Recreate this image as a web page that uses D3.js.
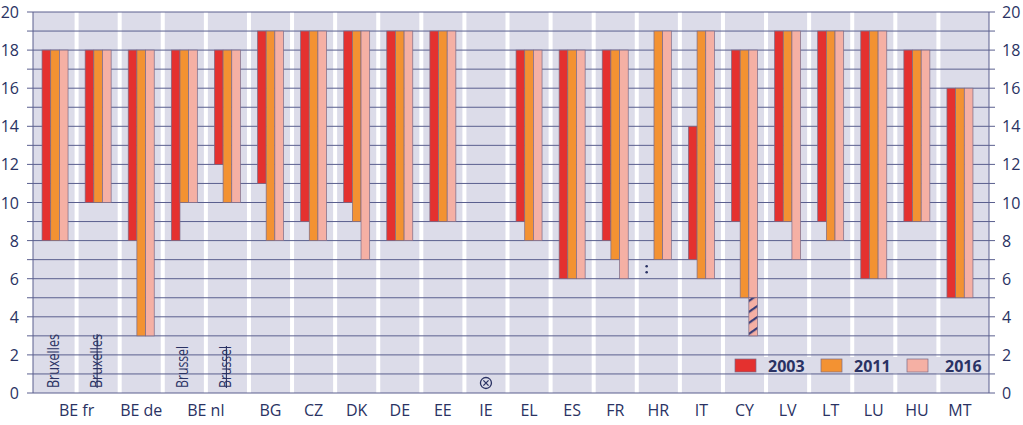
<!DOCTYPE html>
<html>
<head>
<meta charset="utf-8">
<script src="https://cdn.jsdelivr.net/npm/d3@7"></script>
<style>
  body { margin: 0; background: #fff; }
  svg text { font-family: "Open Sans", sans-serif; fill: #2a3263; }
</style>
</head>
<body>
<svg id="chart" width="1023" height="425"></svg>
<script>
// columns of the chart (BE fr and BE nl have two columns each)
var columns = ["BE fr Bruxelles", "BE fr", "BE de", "BE nl Brussel", "BE nl", "BG", "CZ", "DK", "DE", "EE",
  "IE", "EL", "ES", "FR", "HR", "IT", "CY", "LV", "LT", "LU", "HU", "MT"];
var groupLabels = ["BE fr", "BE de", "BE nl", "BG", "CZ", "DK", "DE", "EE", "IE", "EL", "ES", "FR",
  "HR", "IT", "CY", "LV", "LT", "LU", "HU", "MT"];
var groupSpan = [2, 1, 2, 1, 1, 1, 1, 1, 1, 1, 1, 1, 1, 1, 1, 1, 1, 1, 1, 1];
var years = ["2003", "2011", "2016"];

var low2003  = [8, 10, 8, 8, 12, 11, 9, 10, 8, 9, null, 9, 6, 8, null, 7, 9, 9, 9, 6, 9, 5];
var high2003 = [18, 18, 18, 18, 18, 19, 19, 19, 19, 19, null, 18, 18, 18, null, 14, 18, 19, 19, 19, 18, 16];
var low2011  = [8, 10, 3, 10, 10, 8, 8, 9, 8, 9, null, 8, 6, 7, 7, 6, 5, 9, 8, 6, 9, 5];
var high2011 = [18, 18, 18, 18, 18, 19, 19, 19, 19, 19, null, 18, 18, 18, 19, 19, 18, 19, 19, 19, 18, 16];
var low2016  = [8, 10, 3, 10, 10, 8, 8, 7, 8, 9, null, 8, 6, 6, 7, 6, 5, 7, 8, 6, 9, 5];
var high2016 = [18, 18, 18, 18, 18, 19, 19, 19, 19, 19, null, 18, 18, 18, 19, 19, 18, 19, 19, 19, 18, 16];

// CY 2016: hatched part of the range
var hatchCol = "CY", hatchLow = 3, hatchHigh = 5;
// rotated city labels
var cityLabels = [["BE fr Bruxelles", "Bruxelles", false], ["BE fr", "Bruxelles", true],
  ["BE nl Brussel", "Brussel", false], ["BE nl", "Brussel", true]];
var notAvailable = [["HR", "2003", 6.5]];
var notApplicable = ["IE"];
var yTicks = d3.range(0, 21, 2);

var colors = {"2003": "#e4312f", "2011": "#f39232", "2016": "#f5b0a4"};
var navy = "#2a3263", gridColor = "#5a5f8e";

var svg = d3.select("#chart");
var plotL = 33, plotR = 989, plotT = 12, plotB = 393;

var x = d3.scaleBand().domain(columns).range([33.5, 981.5]).paddingInner(0).paddingOuter(0);
var y = d3.scaleLinear().domain([0, 20]).range([plotB, plotT]);
var xYear = d3.scaleBand().domain(years).range([-13, 13]);

var defs = svg.append("defs");
var pat = defs.append("pattern").attr("id", "hatch").attr("patternUnits", "userSpaceOnUse")
  .attr("width", 9).attr("height", 9).attr("patternTransform", "rotate(-35)");
pat.append("rect").attr("width", 9).attr("height", 9).attr("fill", colors["2016"]);
pat.append("rect").attr("width", 9).attr("height", 2.2).attr("fill", "#3a3f7a");

// background and white separators
svg.append("rect").attr("x", plotL).attr("y", plotT).attr("width", plotR - plotL).attr("height", plotB - plotT)
  .attr("fill", "#dcdce9");
svg.selectAll(".sep").data(columns.slice(1)).enter().append("rect")
  .attr("x", function(d) { return x(d) - 2; }).attr("y", plotT)
  .attr("width", 4).attr("height", plotB - plotT).attr("fill", "#fff");

// grid lines (every unit) with ticks on both sides
svg.selectAll(".grid").data(d3.range(0, 21)).enter().append("line")
  .attr("x1", plotL - 6).attr("x2", plotR + 6)
  .attr("y1", function(d) { return y(d); }).attr("y2", function(d) { return y(d); })
  .attr("stroke", gridColor).attr("stroke-width", 1);
svg.append("line").attr("x1", plotL).attr("x2", plotL).attr("y1", plotT).attr("y2", plotB)
  .attr("stroke", gridColor);
svg.append("line").attr("x1", plotR).attr("x2", plotR).attr("y1", plotT).attr("y2", plotB)
  .attr("stroke", gridColor);

// y labels left and right
svg.selectAll(".yl").data(yTicks).enter().append("text")
  .attr("x", 19).attr("y", function(d) { return y(d) + 6; })
  .attr("text-anchor", "end").attr("font-size", 16).text(function(d) { return d; });
svg.selectAll(".yr").data(yTicks).enter().append("text")
  .attr("x", 1002).attr("y", function(d) { return y(d) + 6; })
  .attr("text-anchor", "start").attr("font-size", 16).text(function(d) { return d; });

// bars
var series = [["2003", low2003, high2003], ["2011", low2011, high2011], ["2016", low2016, high2016]];
series.forEach(function(s) {
  var rows = columns.map(function(c, i) { return {col: c, lo: s[1][i], hi: s[2][i]}; })
    .filter(function(d) { return d.lo != null; });
  svg.selectAll(".b" + s[0]).data(rows).enter().append("rect")
    .attr("x", function(d) { return x(d.col) + x.bandwidth() / 2 + xYear(s[0]); })
    .attr("width", xYear.bandwidth())
    .attr("y", function(d) { return y(d.hi); })
    .attr("height", function(d) { return y(d.lo) - y(d.hi); })
    .attr("fill", colors[s[0]]).attr("stroke", "#7b6a86").attr("stroke-width", 0.7);
});

// hatched extension
svg.append("rect")
  .attr("x", x(hatchCol) + x.bandwidth() / 2 + xYear("2016"))
  .attr("width", xYear.bandwidth())
  .attr("y", y(hatchHigh)).attr("height", y(hatchLow) - y(hatchHigh))
  .attr("fill", "url(#hatch)").attr("stroke", "#7b6a86").attr("stroke-width", 0.7);

// ":" not available
notAvailable.forEach(function(n) {
  var cx = x(n[0]) + x.bandwidth() / 2 + xYear(n[1]) + xYear.bandwidth() / 2 - 3;
  svg.append("circle").attr("cx", cx).attr("cy", y(n[2]) - 3).attr("r", 1.3).attr("fill", navy);
  svg.append("circle").attr("cx", cx).attr("cy", y(n[2]) + 3).attr("r", 1.3).attr("fill", navy);
});

// circled cross
notApplicable.forEach(function(c) {
  var cx = x(c) + x.bandwidth() / 2, cy = 383;
  svg.append("circle").attr("cx", cx).attr("cy", cy).attr("r", 5.5)
    .attr("fill", "none").attr("stroke", navy).attr("stroke-width", 1.3);
  svg.append("path").attr("d", "M" + (cx - 2.6) + "," + (cy - 2.6) + "L" + (cx + 2.6) + "," + (cy + 2.6) +
      "M" + (cx + 2.6) + "," + (cy - 2.6) + "L" + (cx - 2.6) + "," + (cy + 2.6))
    .attr("stroke", navy).attr("stroke-width", 1.3);
});

// rotated city names
cityLabels.forEach(function(c) {
  var bx = x(c[0]) + x.bandwidth() / 2 + 4;
  var len = c[1] == "Bruxelles" ? 54 : 42;
  svg.append("text").attr("transform", "translate(" + bx + ",388) rotate(-90)")
    .attr("font-size", 17).attr("textLength", len).attr("lengthAdjust", "spacingAndGlyphs")
    .text(c[1]);
  if (c[2]) {
    svg.append("line").attr("x1", bx - 5).attr("x2", bx - 5).attr("y1", 388).attr("y2", 388 - len)
      .attr("stroke", navy).attr("stroke-width", 1.1);
  }
});

// x labels (centred on their group of columns)
var start = 0;
groupLabels.forEach(function(g, i) {
  var first = columns[start], last = columns[start + groupSpan[i] - 1];
  var cx = (x(first) + x(last) + x.bandwidth()) / 2;
  svg.append("text").attr("x", cx).attr("y", 416).attr("text-anchor", "middle")
    .attr("font-size", 16).text(g);
  start += groupSpan[i];
});

// legend
var legend = svg.append("g");
legend.append("rect").attr("x", 729).attr("y", 357).attr("width", 259).attr("height", 16).attr("fill", "#dcdce9");
var legX = [735, 821, 907];
years.forEach(function(yr, i) {
  legend.append("rect").attr("x", legX[i]).attr("y", 359).attr("width", 21).attr("height", 13)
    .attr("fill", colors[yr]).attr("stroke", "#7b6a86").attr("stroke-width", 0.7);
  legend.append("text").attr("x", legX[i] + (i == 2 ? 38 : 33)).attr("y", 371.5)
    .attr("font-size", 16).attr("font-weight", "bold").text(yr);
});
</script>
</body>
</html>
